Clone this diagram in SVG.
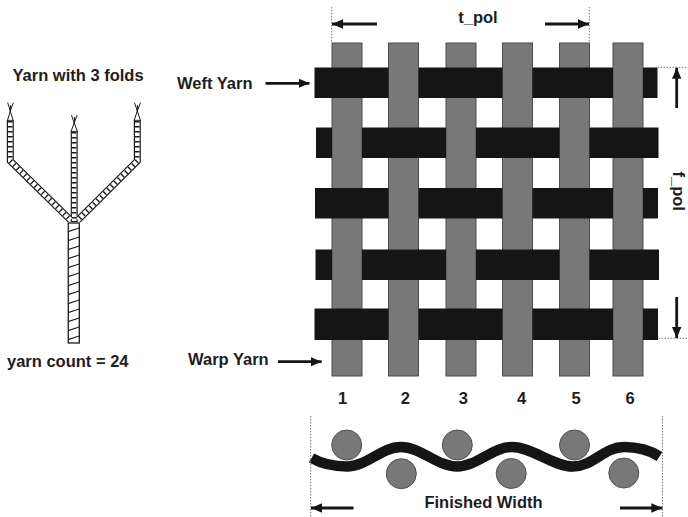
<svg xmlns="http://www.w3.org/2000/svg" width="688" height="517" viewBox="0 0 688 517">
  <style>
    text { font-family: "Liberation Sans", Arial, sans-serif; font-weight: bold; font-size: 16.5px; fill: #1e1e1e; }
    .warp { fill: #787878; stroke: #4d4d4d; stroke-width: 1; }
    .weft { fill: #151515; }
    .dot { stroke: #777; stroke-width: 1; stroke-dasharray: 1.5 1.5; fill: none; }
    .arr { stroke: #151515; stroke-width: 2.8; fill: none; marker-end: url(#head); }
    .ply-out { stroke: #1a1a1a; stroke-width: 7; fill: none; stroke-linejoin: miter; }
    .ply-in { stroke: #fff; stroke-width: 4.6; fill: none; stroke-linejoin: miter; }
    .ply-hatch { stroke: #1a1a1a; stroke-width: 4.6; fill: none; stroke-dasharray: 1.4 3.6; stroke-linejoin: miter; }
    .fray { stroke: #1a1a1a; stroke-width: 1; fill: none; stroke-linecap: round; }
    .bead { fill: #787878; stroke: #505050; stroke-width: 1; }
  </style>
  <defs>
    <marker id="head" viewBox="0 0 11 10" refX="11" refY="5" markerWidth="11" markerHeight="10" markerUnits="userSpaceOnUse" orient="auto">
      <path d="M0,0.3 L11,5 L0,9.7 Z" fill="#151515"/>
    </marker>
    <clipPath id="trunk-clip">
      <rect x="68.3" y="223" width="11" height="120"/>
    </clipPath>
  </defs>

  <rect width="688" height="517" fill="#fff"/>

  <!-- three-ply yarn -->
  <g id="yarn-plies">
    <text x="12.5" y="80.5">Yarn with 3 folds</text>
    <!-- frayed ends -->
    <path class="fray" d="M7.6,120 L10.3,111 L13,120 Z M10.3,111 L7.8,103 M10.3,111 L13.2,103 M10.3,111 L10.6,105.5" fill="#1a1a1a"/>
    <path class="fray" d="M71.2,131 L74.2,123 L77.2,131 Z M74.2,123 L71.6,115.5 M74.2,123 L77,115.5 M74.2,123 L74.5,117.5" fill="#1a1a1a"/>
    <path class="fray" d="M134.3,120 L137.3,111 L140.3,120 Z M137.3,111 L134.6,103 M137.3,111 L140.3,103 M137.3,111 L137.6,105.5" fill="#1a1a1a"/>
    <!-- plies -->
    <path class="ply-out" d="M10.3,120 L10.3,161 L70.5,220"/>
    <path class="ply-out" d="M137.3,120 L137.3,161 L78,220"/>
    <path class="ply-out" d="M74.2,131 L74.2,222"/>
    <path class="ply-in" d="M10.3,120.8 L10.3,161 L70.5,220"/>
    <path class="ply-in" d="M137.3,120.8 L137.3,161 L78,220"/>
    <path class="ply-in" d="M74.2,131.8 L74.2,221"/>
    <path class="ply-hatch" d="M10.3,121 L10.3,161 L70.5,220"/>
    <path class="ply-hatch" d="M137.3,121 L137.3,161 L78,220"/>
    <path class="ply-hatch" d="M74.2,132 L74.2,221"/>
    <!-- folded yarn -->
    <rect x="68.3" y="223" width="11" height="120" fill="#fff" stroke="#1a1a1a" stroke-width="1.3"/>
    <g clip-path="url(#trunk-clip)" stroke="#1a1a1a" stroke-width="1.2">
      <line x1="68" y1="231.7" x2="80" y2="227.7"/>
      <line x1="68" y1="240.7" x2="80" y2="236.7"/>
      <line x1="68" y1="249.7" x2="80" y2="245.7"/>
      <line x1="68" y1="258.7" x2="80" y2="254.7"/>
      <line x1="68" y1="267.7" x2="80" y2="263.7"/>
      <line x1="68" y1="276.7" x2="80" y2="272.7"/>
      <line x1="68" y1="285.7" x2="80" y2="281.7"/>
      <line x1="68" y1="294.7" x2="80" y2="290.7"/>
      <line x1="68" y1="303.7" x2="80" y2="299.7"/>
      <line x1="68" y1="312.7" x2="80" y2="308.7"/>
      <line x1="68" y1="321.7" x2="80" y2="317.7"/>
      <line x1="68" y1="330.7" x2="80" y2="326.7"/>
      <line x1="68" y1="339.7" x2="80" y2="335.7"/>
    </g>
    <text x="7" y="366.5">yarn count = 24</text>
  </g>

  <!-- plain weave: warp ends -->
  <g id="warp">
    <rect class="warp" x="332" y="43" width="30" height="333"/>
    <rect class="warp" x="388.5" y="43" width="30" height="333"/>
    <rect class="warp" x="446" y="43" width="30" height="333"/>
    <rect class="warp" x="502.5" y="43" width="30" height="333"/>
    <rect class="warp" x="559.5" y="43" width="30" height="333"/>
    <rect class="warp" x="613" y="43" width="30" height="333"/>
  </g>

  <!-- plain weave: weft picks (segments lying over the warp) -->
  <g id="weft">
    <rect class="weft" x="314.5" y="67.5" width="74" height="30.5"/>
    <rect class="weft" x="418.5" y="67.5" width="84" height="30.5"/>
    <rect class="weft" x="532.5" y="67.5" width="80.5" height="30.5"/>
    <rect class="weft" x="643" y="67.5" width="14.5" height="30.5"/>

    <rect class="weft" x="316" y="127.5" width="16" height="30.5"/>
    <rect class="weft" x="362" y="127.5" width="84" height="30.5"/>
    <rect class="weft" x="476" y="127.5" width="83.5" height="30.5"/>
    <rect class="weft" x="589.5" y="127.5" width="69" height="30.5"/>

    <rect class="weft" x="315" y="188" width="73.5" height="30.5"/>
    <rect class="weft" x="418.5" y="188" width="84" height="30.5"/>
    <rect class="weft" x="532.5" y="188" width="80.5" height="30.5"/>
    <rect class="weft" x="643" y="188" width="15" height="30.5"/>

    <rect class="weft" x="315.5" y="249.5" width="16.5" height="30.5"/>
    <rect class="weft" x="362" y="249.5" width="84" height="30.5"/>
    <rect class="weft" x="476" y="249.5" width="83.5" height="30.5"/>
    <rect class="weft" x="589.5" y="249.5" width="69.5" height="30.5"/>

    <rect class="weft" x="314.5" y="308.5" width="74" height="31.5"/>
    <rect class="weft" x="418.5" y="308.5" width="84" height="31.5"/>
    <rect class="weft" x="532.5" y="308.5" width="80.5" height="31.5"/>
    <rect class="weft" x="643" y="308.5" width="15" height="31.5"/>
  </g>

  <g id="labels">
    <text x="177" y="88.5">Weft Yarn</text>
    <text x="188" y="365">Warp Yarn</text>
    <text x="478" y="22.5" text-anchor="middle">t_pol</text>
    <text transform="translate(673,171.5) rotate(90)">f_pol</text>
    <g text-anchor="middle">
      <text x="342.7" y="404">1</text>
      <text x="405.3" y="404">2</text>
      <text x="463.3" y="404">3</text>
      <text x="521.7" y="404">4</text>
      <text x="576" y="404">5</text>
      <text x="630" y="404">6</text>
    </g>
    <text x="483.5" y="507.5" text-anchor="middle">Finished Width</text>
  </g>

  <!-- cross-section of the finished cloth -->
  <g id="cross-section">
    <path d="M311.5,458 C322,464 334,466.5 347,466.5 C367,466.5 381,447 401,447 C421,447 437,466.5 457,466.5 C477,466.5 492,447 512,447 C532,447 553,466.5 573,466.5 C593,466.5 604,447 624,447 C640,447 651,451 659.5,456.5" fill="none" stroke="#151515" stroke-width="10.5"/>
    <circle class="bead" cx="346.7" cy="445" r="15"/>
    <circle class="bead" cx="457.3" cy="445" r="15"/>
    <circle class="bead" cx="574.5" cy="445" r="15"/>
    <circle class="bead" cx="401.3" cy="473.7" r="15"/>
    <circle class="bead" cx="511.2" cy="473.5" r="15"/>
    <circle class="bead" cx="623.8" cy="473" r="15"/>
  </g>

  <!-- dimension guides and pointer arrows -->
  <g id="connectors">
    <line class="dot" x1="331.7" y1="7" x2="331.7" y2="43"/>
    <line class="dot" x1="589.3" y1="7" x2="589.3" y2="43"/>
    <line class="dot" x1="657.5" y1="67.3" x2="688" y2="67.3"/>
    <line class="dot" x1="658.5" y1="338.3" x2="688" y2="338.3"/>
    <line class="dot" x1="310.7" y1="416" x2="310.7" y2="517"/>
    <line class="dot" x1="662.5" y1="416" x2="662.5" y2="517"/>

    <line class="arr" x1="377" y1="24" x2="332" y2="24"/>
    <line class="arr" x1="545" y1="24" x2="589" y2="24"/>
    <line class="arr" x1="676.7" y1="108" x2="676.7" y2="67.8"/>
    <line class="arr" x1="676.7" y1="297" x2="676.7" y2="338"/>
    <line class="arr" x1="265.5" y1="83.3" x2="309.5" y2="83.3"/>
    <line class="arr" x1="278" y1="361.7" x2="321.7" y2="361.7"/>
    <line class="arr" x1="353.5" y1="508" x2="311" y2="508"/>
    <line class="arr" x1="620" y1="508" x2="662.3" y2="508"/>
  </g>
</svg>
